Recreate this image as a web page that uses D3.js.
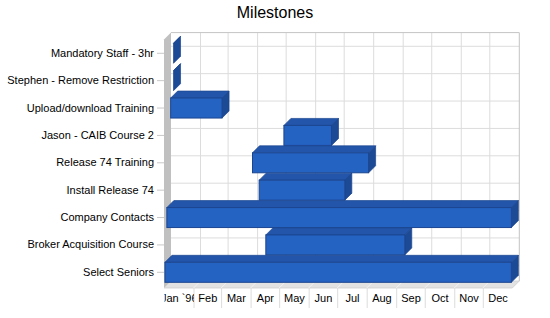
<!DOCTYPE html>
<html><head><meta charset="utf-8">
<script src="https://cdn.jsdelivr.net/npm/d3@7"></script>
<style>body{margin:0;background:#fff;}svg{display:block;font-family:"Liberation Sans",Arial,sans-serif;}</style>
</head><body>
<script>
const tasks = ["Mandatory Staff - 3hr","Stephen - Remove Restriction","Upload/download Training","Jason - CAIB Course 2","Release 74 Training","Install Release 74","Company Contacts","Broker Acquisition Course","Select Seniors"];
const startDates = ["1996-01-11","1996-01-11","1996-01-08","1996-05-06","1996-04-03","1996-04-10","1996-01-04","1996-04-17","1996-01-02"];
const endDates   = ["1996-01-11","1996-01-11","1996-03-02","1996-06-25","1996-08-03","1996-07-09","1996-12-31","1996-09-10","1996-12-31"];
const monthLabels = ["Jan `96","Feb","Mar","Apr","May","Jun","Jul","Aug","Sep","Oct","Nov","Dec"];
const title = "Milestones";

const W = 550, H = 318;
const D = 7; // 3D depth offset
const X0 = 164, X1 = 512.3, Y0 = 39.6, Y1 = 286, FLOOR = 288;
const parse = d3.utcParse("%Y-%m-%d");
const x = d3.scaleUtc().domain([parse("1996-01-01"), parse("1997-01-01")]).range([X0, X1]);
const y = d3.scaleBand().domain(tasks).range([Y0, Y1]).paddingInner(0.27).paddingOuter(0.135);
const months = d3.utcMonth.range(parse("1996-01-01"), parse("1997-01-01"));

const svg = d3.select("body").append("svg").attr("width", W).attr("height", H);

svg.append("text").attr("x", 275).attr("y", 18).attr("text-anchor", "middle")
  .attr("font-size", 16).attr("fill", "#000").text(title);

// back wall
const backTop = Y0 - D, backBottom = FLOOR - D, backLeft = X0 + D, backRight = X1 + D;
svg.append("rect").attr("x", backLeft).attr("y", backTop).attr("width", backRight - backLeft).attr("height", backBottom - backTop).attr("fill", "#fff");
// gridlines
svg.append("g").selectAll("line").data(months.slice(1)).join("line")
  .attr("x1", d => x(d) + D).attr("x2", d => x(d) + D).attr("y1", backTop).attr("y2", backBottom)
  .attr("stroke", "#dcdcdc");
svg.append("g").selectAll("line").data(tasks).join("line")
  .attr("x1", backLeft).attr("x2", backRight)
  .attr("y1", d => y(d) + y.bandwidth() / 2 - D).attr("y2", d => y(d) + y.bandwidth() / 2 - D)
  .attr("stroke", "#dcdcdc");
// border of back wall
svg.append("path").attr("d", `M${backLeft},${backTop}H${backRight}V${backBottom}`)
  .attr("fill", "none").attr("stroke", "#c4c4c4");

// left wall
svg.append("path").attr("d", `M${X0},${Y0}L${backLeft},${backTop}L${backLeft},${backBottom}L${X0},${FLOOR}Z`)
  .attr("fill", "#c0c0c0");
// floor
svg.append("path").attr("d", `M${X0},${FLOOR}L${backLeft},${backBottom}L${backRight},${backBottom}L${X1},${FLOOR}Z`)
  .attr("fill", "#e2e2e2").attr("stroke", "#cfcfcf").attr("stroke-width", 0.8);
svg.append("g").selectAll("line").data(months.slice(1)).join("line")
  .attr("x1", d => x(d)).attr("x2", d => x(d) + D).attr("y1", FLOOR).attr("y2", backBottom)
  .attr("stroke", "#f2f2f2");

// y axis
const yAxis = svg.append("g").attr("transform", `translate(${X0},0)`)
  .call(d3.axisLeft(y).tickSize(7).tickPadding(3));
yAxis.select(".domain").remove();
yAxis.selectAll(".tick line").attr("stroke", "#c8c8c8");
yAxis.selectAll(".tick text").attr("font-size", 11).attr("fill", "#000")
  .attr("font-family", '"Liberation Sans",Arial,sans-serif');

// x axis separators
const xSep = svg.append("g").attr("transform", `translate(0,${FLOOR})`)
  .call(d3.axisBottom(x).tickValues(months.slice(1)).tickSize(20).tickFormat(""));
xSep.select(".domain").remove();
xSep.selectAll(".tick line").attr("stroke", "#dcdcdc");

// x axis labels at month midpoints
const mids = months.map(m => new Date((+m + +d3.utcMonth.offset(m, 1)) / 2));
svg.append("clipPath").attr("id", "labclip").append("rect")
  .attr("x", X0 - x(mids[0])).attr("y", 0).attr("width", x(months[1]) - X0).attr("height", 30);
const xLab = svg.append("g").attr("transform", `translate(0,${FLOOR})`)
  .call(d3.axisBottom(x).tickValues(mids).tickSize(0).tickPadding(6).tickFormat((d, i) => monthLabels[i]));
xLab.select(".domain").remove();
xLab.selectAll(".tick text").attr("font-size", 11).attr("fill", "#000")
  .attr("font-family", '"Liberation Sans",Arial,sans-serif');
xLab.selectAll(".tick").filter((d, i) => i === 0).select("text").attr("clip-path", "url(#labclip)");

// bars
const front = "#2563c2", topc = "#2356aa", side = "#1c4a94", edge = "#1b4590";
const bars = svg.append("g");
tasks.forEach((t, i) => {
  const xs = x(parse(startDates[i])), xe = x(parse(endDates[i]));
  const yt = y(t), yb = y(t) + y.bandwidth();
  const g = bars.append("g");
  g.append("path").attr("d", `M${xs},${yt}L${xs + D},${yt - D}L${xe + D},${yt - D}L${xe},${yt}Z`)
    .attr("fill", topc).attr("stroke", edge).attr("stroke-width", 0.7).attr("stroke-linejoin", "round");
  g.append("path").attr("d", `M${xe},${yt}L${xe + D},${yt - D}L${xe + D},${yb - D}L${xe},${yb}Z`)
    .attr("fill", side).attr("stroke", edge).attr("stroke-width", 0.7).attr("stroke-linejoin", "round");
  if (xe > xs) {
    g.append("rect").attr("x", xs).attr("y", yt).attr("width", xe - xs).attr("height", yb - yt)
      .attr("fill", front).attr("stroke", edge).attr("stroke-width", 1);
  }
});
</script>
</body></html>
